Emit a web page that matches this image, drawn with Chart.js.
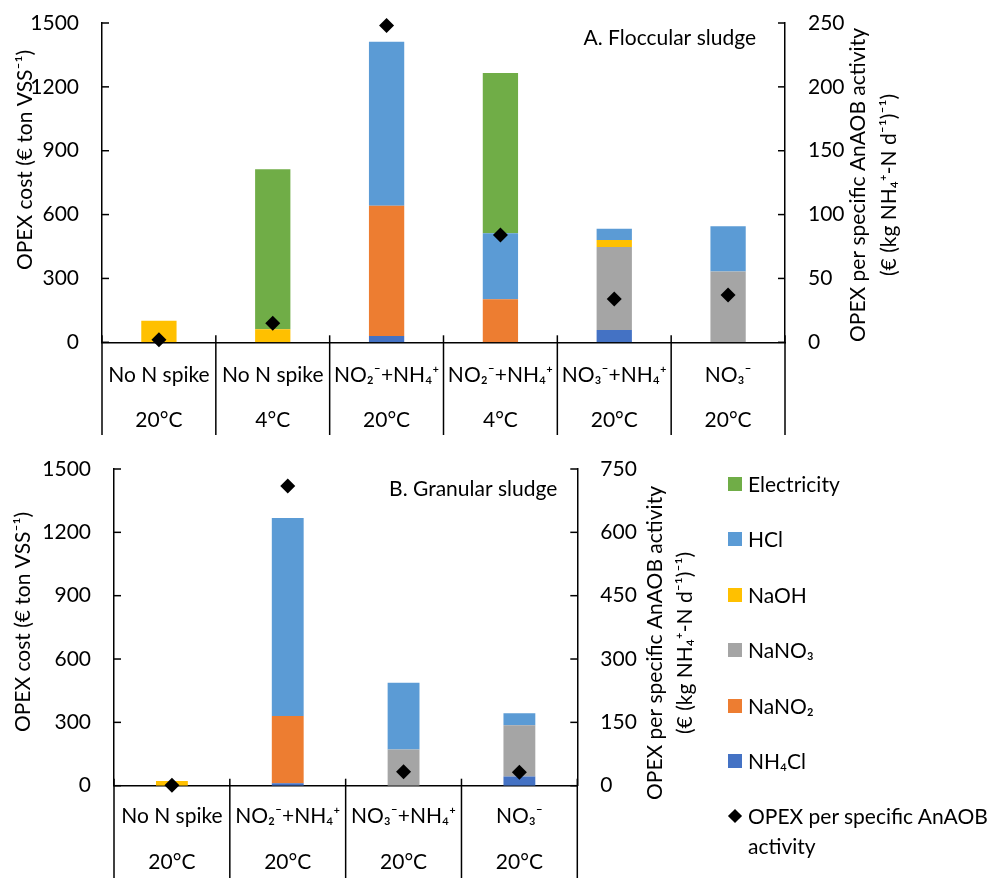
<!DOCTYPE html>
<html>
<head>
<meta charset="utf-8">
<script src="https://cdn.jsdelivr.net/npm/chart.js@4.4.1/dist/chart.umd.min.js"></script>
<style>
  body { margin: 0; background: #fff; }
  #wrap { position: relative; width: 993px; height: 878px; font-family: Lato, sans-serif; color: #000; }
  #topChart { position: absolute; left: 0; top: 0; }
  #botChart { position: absolute; left: 0; top: 445px; }
  #legend { position: absolute; left: 728px; top: 0; font-size: 21px; }
  .item { position: absolute; left: 0; white-space: nowrap; line-height: 30px; }
  .sw { position: absolute; left: 0; width: 14px; height: 14px; }
  .txt { position: absolute; left: 20px; top: 0; }
  .dia { position: absolute; left: 2px; width: 10px; height: 10px; background: #000; transform: rotate(45deg); }
</style>
</head>
<body>
<div id="wrap">
  <canvas id="topChart" width="993" height="445"></canvas>
  <canvas id="botChart" width="993" height="433"></canvas>
  <div id="legend"></div>
</div>
<script>
const FONT = 'Lato, sans-serif';
const FS = 21;

// A. Floccular sludge
const catA = ['No N spike', 'No N spike', 'NO₂⁻+NH₄⁺', 'NO₂⁻+NH₄⁺', 'NO₃⁻+NH₄⁺', 'NO₃⁻'];
const tempA = ['20°C', '4°C', '20°C', '4°C', '20°C', '20°C'];
const nh4clA = [0, 0, 30, 0, 58, 0];
const nano2A = [0, 0, 612, 202, 0, 0];
const nano3A = [0, 0, 0, 0, 390, 333];
const naohA = [101, 61, 0, 0, 33, 0];
const hclA = [0, 0, 770, 310, 53, 212];
const elecA = [0, 752, 0, 753, 0, 0];
const opexA = [2, 15, 248, 84, 34, 37];

// B. Granular sludge
const catB = ['No N spike', 'NO₂⁻+NH₄⁺', 'NO₃⁻+NH₄⁺', 'NO₃⁻'];
const tempB = ['20°C', '20°C', '20°C', '20°C'];
const nh4clB = [0, 12, 0, 43];
const nano2B = [0, 318, 0, 0];
const nano3B = [0, 0, 172, 243];
const naohB = [22, 0, 0, 0];
const hclB = [0, 938, 316, 57];
const elecB = [0, 0, 0, 0];
const opexB = [1, 710, 33, 32];

const names = ['NH₄Cl', 'NaNO₂', 'NaNO₃', 'NaOH', 'HCl', 'Electricity'];
const colors = ['#4472C4', '#ED7D31', '#A5A5A5', '#FFC000', '#5B9BD5', '#70AD47'];
const opexName = 'OPEX per specific AnAOB activity';

const leftTitle = 'OPEX cost (€ ton VSS⁻¹)';
const rightTitle = ['OPEX per specific AnAOB activity', '(€ (kg NH₄⁺-N d⁻¹)⁻¹)'];

Chart.defaults.font.family = FONT;
Chart.defaults.font.size = FS;
Chart.defaults.color = '#000';

function line(ctx, x1, y1, x2, y2) {
  ctx.beginPath(); ctx.moveTo(x1, y1); ctx.lineTo(x2, y2); ctx.stroke();
}

function vText(ctx, text, x, y) {
  ctx.save();
  ctx.translate(x, y);
  ctx.rotate(-Math.PI / 2);
  ctx.textAlign = 'center';
  ctx.textBaseline = 'middle';
  ctx.fillText(text, 0, 0);
  ctx.restore();
}

function decor(c) {
  return {
    id: 'decor',
    afterDraw(chart) {
      const ctx = chart.ctx;
      const xs = chart.scales.x, ys = chart.scales.y, y2 = chart.scales.y2;
      ctx.save();
      ctx.strokeStyle = '#000';
      ctx.lineWidth = 1.5;
      // category separators below the axis
      const n = xs.ticks.length;
      for (let i = 0; i <= n; i++) {
        const x = xs.left + i * xs.width / n;
        line(ctx, x, ys.bottom - 7, x, c.sepBottom);
      }
      // tick marks pointing inwards
      ys.ticks.forEach(t => {
        const y = ys.getPixelForValue(t.value);
        line(ctx, ys.right, y, ys.right + 7, y);
      });
      y2.ticks.forEach(t => {
        const y = y2.getPixelForValue(t.value);
        line(ctx, y2.left - 7, y, y2.left, y);
      });
      ctx.fillStyle = '#000';
      ctx.font = FS + 'px ' + FONT;
      ctx.textAlign = 'right';
      ctx.textBaseline = 'middle';
      ctx.fillText(c.panel, chart.chartArea.right - c.panelDx, c.panelY);
      vText(ctx, leftTitle, c.leftX, c.leftY);
      vText(ctx, rightTitle[0], c.r1X, c.rY);
      vText(ctx, rightTitle[1], c.r2X, c.rY);
      ctx.restore();
    }
  };
}

function makeChart(id, cats, temps, series, opex, c) {
  const datasets = series.map((d, i) => ({
    type: 'bar', label: names[i], data: d, backgroundColor: colors[i],
    borderWidth: 0, stack: 's', yAxisID: 'y', order: 1,
    barPercentage: c.barPct, categoryPercentage: 1
  }));
  datasets.push({
    type: 'line', label: opexName, data: opex, yAxisID: 'y2', showLine: false,
    pointStyle: 'rectRot', pointRadius: 7.5, pointBackgroundColor: '#000',
    pointBorderWidth: 0, borderColor: '#000', order: 0, clip: false
  });
  const noPad = s => { s.paddingTop = 0; s.paddingBottom = 0; };
  return new Chart(document.getElementById(id), {
    type: 'bar',
    data: { labels: cats.map((k, i) => [k, temps[i]]), datasets: datasets },
    options: {
      responsive: false,
      animation: false,
      events: [],
      layout: { padding: { top: c.top, left: 0, right: 0, bottom: 0 } },
      plugins: { legend: { display: false }, tooltip: { enabled: false } },
      scales: {
        x: {
          stacked: true,
          grid: { display: false, drawTicks: false },
          border: { display: true, color: '#000', width: 1.5 },
          ticks: { maxRotation: 0, autoSkip: false, padding: c.xPad, font: { size: FS, lineHeight: c.lh } },
          afterFit: s => { s.height = c.xH; }
        },
        y: {
          stacked: true, min: 0, max: 1500,
          grid: { display: false, drawTicks: false },
          border: { display: true, color: '#000', width: 1.5 },
          ticks: { stepSize: 300, padding: 23, callback: v => String(v) },
          afterFit: s => { s.width = c.yW; noPad(s); }
        },
        y2: {
          position: 'right', min: 0, max: c.y2Max,
          grid: { display: false, drawTicks: false },
          border: { display: true, color: '#000', width: 1.5 },
          ticks: { stepSize: c.y2Max / 5, padding: 23, callback: v => String(v) },
          afterFit: s => { s.width = c.y2W; noPad(s); }
        }
      }
    },
    plugins: [decor(c)]
  });
}

makeChart('topChart', catA, tempA, [nh4clA, nano2A, nano3A, naohA, hclA, elecA], opexA, {
  top: 23, xH: 445 - 342.3, yW: 102, y2W: 993 - 785, y2Max: 250, barPct: 0.31,
  xPad: 10, lh: 45 / FS, sepBottom: 435,
  panel: 'A. Floccular sludge', panelDx: 29, panelY: 38,
  leftX: 25, leftY: 160, r1X: 858, r2X: 889, rY: 185
});

makeChart('botChart', catB, tempB, [nh4clB, nano2B, nano3B, naohB, hclB, elecB], opexB, {
  top: 24, xH: 433 - 340.7, yW: 114, y2W: 993 - 577.3, y2Max: 750, barPct: 0.275,
  xPad: 8, lh: 46 / FS, sepBottom: 433,
  panel: 'B. Granular sludge', panelDx: 20, panelY: 44,
  leftX: 23, leftY: 177, r1X: 655, r2X: 685, rY: 198
});

// legend, top to bottom: reverse of stacking order, then the diamonds
const legend = document.getElementById('legend');
let html = '';
const rowY = 484;
const rowStep = 55.4;
for (let k = 0; k < names.length; k++) {
  const i = names.length - 1 - k;
  const cy = rowY + k * rowStep;
  html += `<div class="item" style="top:${cy - 15}px"><div class="sw" style="top:8px;background:${colors[i]}"></div><div class="txt">${names[i]}</div></div>`;
}
const cy = rowY + names.length * rowStep;
html += `<div class="item" style="top:${cy - 15}px"><div class="dia" style="top:10px"></div><div class="txt">OPEX per specific AnAOB<br>activity</div></div>`;
legend.innerHTML = html;
</script>
</body>
</html>
